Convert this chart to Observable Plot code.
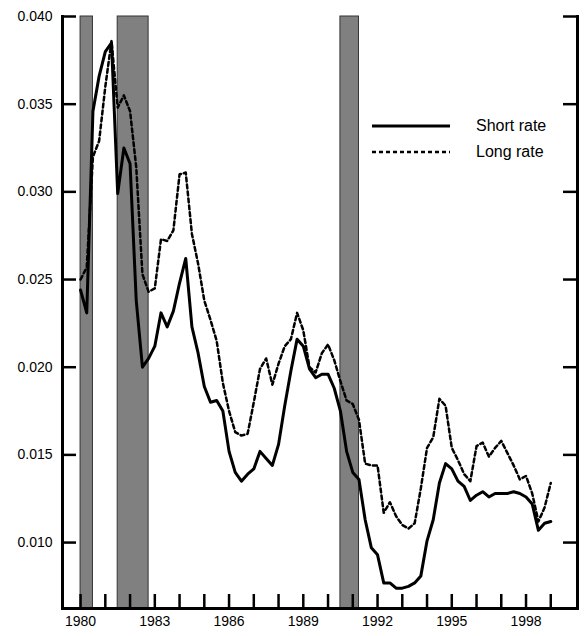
<!DOCTYPE html>
<html>
<head>
<meta charset="utf-8">
<script src="https://cdn.jsdelivr.net/npm/d3@7"></script>
<script src="https://cdn.jsdelivr.net/npm/@observablehq/plot@0.6"></script>
<style>
  body { margin: 0; background: #fff; font-family: "Liberation Sans", Arial, sans-serif; }
  #wrap { position: relative; width: 587px; height: 636px; }
  #legend { position: absolute; left: 372px; top: 113px; font-size: 16px; }
  #legend div { display: flex; align-items: center; height: 26px; }
  #legend svg { margin-right: 26px; }
</style>
</head>
<body>
<div id="wrap">
  <div id="chart"></div>
  <div id="legend">
    <div><svg width="78" height="6"><line x1="0" y1="3" x2="78" y2="3" stroke="#000" stroke-width="3"/></svg>Short rate</div>
    <div><svg width="78" height="6"><line x1="0" y1="3" x2="78" y2="3" stroke="#000" stroke-width="2.5" stroke-dasharray="4,3"/></svg>Long rate</div>
  </div>
</div>
<script>
// quarterly observations, 1980Q1 .. 1999Q1
const startYear = 1980;
const shortRate = [
  0.0244, 0.0231, 0.0346, 0.0366, 0.0380, 0.0385, 0.0299, 0.0325,
  0.0316, 0.0238, 0.0200, 0.0205, 0.0212, 0.0231, 0.0223, 0.0232,
  0.0248, 0.0262, 0.0223, 0.0208, 0.0189, 0.0180, 0.0181, 0.0175,
  0.0152, 0.0140, 0.0135, 0.0139, 0.0142, 0.0152, 0.0148, 0.0144,
  0.0156, 0.0178, 0.0198, 0.0216, 0.0212, 0.0199, 0.0194, 0.0196,
  0.0196, 0.0188, 0.0175, 0.0152, 0.0140, 0.0136, 0.0113, 0.0097,
  0.0093, 0.0077, 0.0077, 0.0074, 0.0074, 0.0075, 0.0077, 0.0081,
  0.0101, 0.0113, 0.0134, 0.0145, 0.0142, 0.0135, 0.0132, 0.0124,
  0.0127, 0.0129, 0.0126, 0.0128, 0.0128, 0.0128, 0.0129, 0.0128,
  0.0126, 0.0122, 0.0107, 0.0111, 0.0112
];
const longRate = [
  0.0250, 0.0257, 0.0320, 0.0329, 0.0360, 0.0386, 0.0348, 0.0355,
  0.0346, 0.0314, 0.0253, 0.0243, 0.0245, 0.0273, 0.0272, 0.0278,
  0.0310, 0.0311, 0.0276, 0.0259, 0.0238, 0.0227, 0.0215, 0.0191,
  0.0175, 0.0163, 0.0161, 0.0162, 0.0180, 0.0199, 0.0205, 0.0190,
  0.0202, 0.0212, 0.0216, 0.0231, 0.0221, 0.0200, 0.0197, 0.0208,
  0.0213, 0.0204, 0.0192, 0.0181, 0.0179, 0.0170, 0.0145, 0.0144,
  0.0144, 0.0117, 0.0123, 0.0115, 0.0110, 0.0108, 0.0111, 0.0131,
  0.0154, 0.0160, 0.0182, 0.0178, 0.0154, 0.0147, 0.0139, 0.0135,
  0.0155, 0.0157, 0.0149, 0.0154, 0.0158, 0.0151, 0.0144, 0.0136,
  0.0138, 0.0128, 0.0112, 0.0120, 0.0134
];
const recessions = [
  {start: 1980.0, end: 1980.5},
  {start: 1981.5, end: 1982.75},
  {start: 1990.5, end: 1991.25}
];
const yTicks = [0.010, 0.015, 0.020, 0.025, 0.030, 0.035, 0.040];
const xTicks = d3.range(1980, 2000);
const xLabels = [1980, 1983, 1986, 1989, 1992, 1995, 1998];

const toRows = arr => arr.map((v, i) => ({t: startYear + i / 4, v}));

const W = 587, H = 636, mL = 62, mR = 10, mT = 16, mB = 28, tick = 14;
const innerW = W - mL - mR, innerH = H - mT - mB;
const xDom = [1979.27, 2000.08], yDom = [0.00624, 0.040];
// tick length expressed in data units
const xTickLen = tick / innerW * (xDom[1] - xDom[0]);
const yTickLen = tick / innerH * (yDom[1] - yDom[0]);

const chart = Plot.plot({
  width: W,
  height: H,
  marginLeft: mL,
  marginRight: mR,
  marginTop: mT,
  marginBottom: mB,
  style: {fontFamily: "Liberation Sans, Arial, sans-serif", fontSize: "14px", color: "#000"},
  x: {domain: xDom},
  y: {domain: yDom},
  marks: [
    Plot.rectY(recessions, {x1: "start", x2: "end", y1: yDom[0], y2: yDom[1], fill: "#808080", stroke: "#333", strokeWidth: 1}),
    Plot.line(toRows(longRate), {x: "t", y: "v", stroke: "#000", strokeWidth: 2.5, strokeDasharray: "4,3"}),
    Plot.line(toRows(shortRate), {x: "t", y: "v", stroke: "#000", strokeWidth: 3}),
    Plot.ruleY(yTicks, {y: d => d, x1: xDom[0], x2: xDom[0] + xTickLen, stroke: "#000", strokeWidth: 2.5}),
    Plot.ruleY(yTicks, {y: d => d, x1: xDom[1] - xTickLen, x2: xDom[1], stroke: "#000", strokeWidth: 2.5}),
    Plot.ruleX(xTicks, {x: d => d, y1: yDom[0], y2: yDom[0] + yTickLen, stroke: "#000", strokeWidth: 2.5}),
    Plot.axisY(yTicks, {anchor: "left", tickSize: 0, tickPadding: 10, tickFormat: d3.format(".3f"), label: null, fontSize: 14}),
    Plot.axisX(xLabels, {anchor: "bottom", tickSize: 0, tickPadding: 8, tickFormat: d => String(d), label: null, fontSize: 14}),
    Plot.frame({anchor: "left", strokeWidth: 3}),
    Plot.frame({anchor: "right", strokeWidth: 3}),
    Plot.frame({anchor: "bottom", strokeWidth: 3})
  ]
});
document.getElementById("chart").append(chart);
</script>
</body>
</html>
